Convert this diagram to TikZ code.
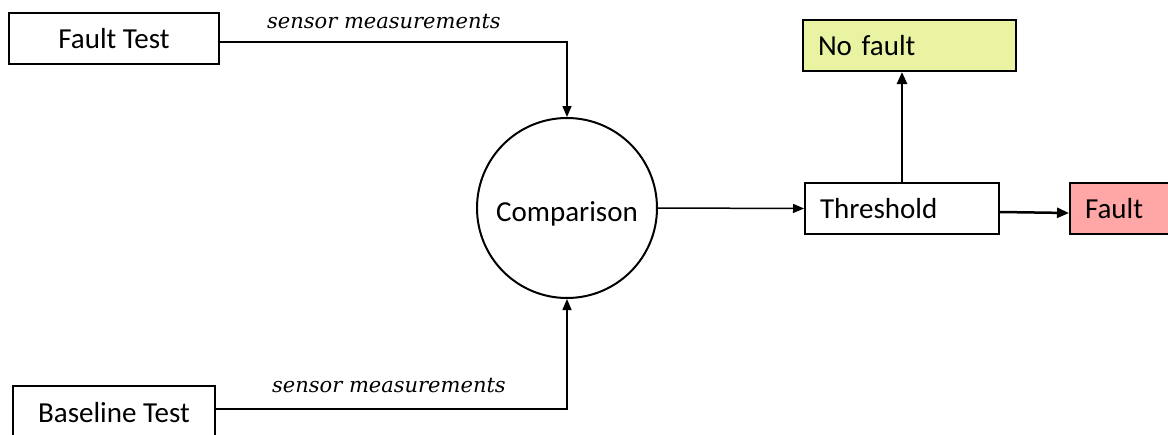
\documentclass[tikz,border=0pt]{standalone}
\usepackage{fontspec}
\setmainfont{Carlito}
\newfontfamily\labfont{DejaVu Serif}
\usetikzlibrary{arrows.meta}
\definecolor{nofaultfill}{HTML}{E9F3A2}
\definecolor{faultfill}{HTML}{FFA6A6}
\tikzset{
  boxnode/.style={draw, line width=2pt, rectangle, inner sep=0pt, font=\fontsize{29}{34}\selectfont},
  leftbox/.style={boxnode, align=left},
  conn/.style={line width=1.5pt, -{Triangle[length=11pt,width=9pt]}},
  thick conn/.style={line width=2.5pt, -{Triangle[length=12pt,width=10pt]}},
  measlabel/.style={font=\labfont\itshape\fontsize{21}{24}\selectfont, inner sep=0pt}
}
\begin{document}
\begin{tikzpicture}[x=1pt,y=-1pt]
\useasboundingbox (0,0) rectangle (1168,434);
\node[boxnode, minimum width=210pt, minimum height=51pt] (ft) at (114,38.5) {Fault Test};
\node[boxnode, minimum width=202pt, minimum height=54pt] (bt) at (114,413) {Baseline Test};
\node[draw, circle, line width=2pt, minimum size=180pt, inner sep=0pt, font=\fontsize{29}{34}\selectfont] (cmp) at (567,208) {\raisebox{-13pt}[0pt][0pt]{Comparison}};
\node[leftbox, minimum width=194pt, minimum height=51pt, text width=164pt] (th) at (902,208.5) {Threshold};
\node[leftbox, fill=nofaultfill, minimum width=213pt, minimum height=51pt, text width=183pt] (nf) at (909.5,45.5) {No fault};
\node[leftbox, fill=faultfill, minimum width=104pt, minimum height=51pt, text width=74pt] (fa) at (1122,208.5) {Fault};
\node[measlabel] (l1) at (384,22) {sensor measurements};
\node[measlabel] (l2) at (389,386) {sensor measurements};
\draw[conn] ([yshift=-3.5pt]ft.east) -| (cmp.north);
\draw[conn] ([yshift=4pt]bt.east) -| (cmp.south);
\draw[conn] (cmp.east) -- (th.west);
\draw[thick conn] (th.north) -- (nf.south -| th.north);
\draw[thick conn] ([yshift=-3.5pt]th.east) -- ([yshift=-4.5pt]fa.west);
\end{tikzpicture}
\end{document}
